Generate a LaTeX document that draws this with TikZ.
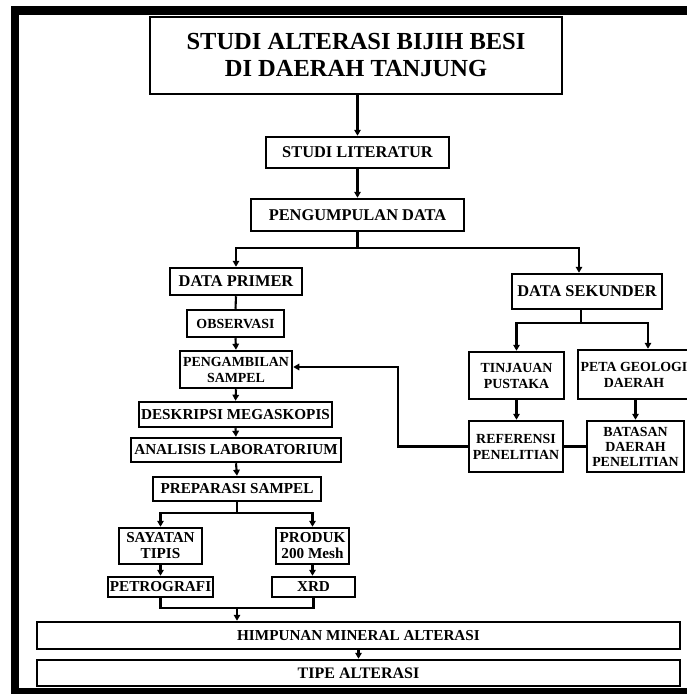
\documentclass[tikz,border=0pt]{standalone}
\usepackage{fontspec}
\setmainfont{Liberation Serif}
\usetikzlibrary{arrows.meta,calc}
\begin{document}
\begin{tikzpicture}[x=1pt,y=-1pt,
  box/.style={draw, line width=2.5pt, rectangle, inner sep=0pt, align=center},
  big/.style={box, font=\bfseries\fontsize{16.4}{18}\selectfont},
  mid/.style={box, font=\bfseries\fontsize{15.2}{16}\selectfont},
  sml/.style={box, font=\bfseries\fontsize{13.9}{16}\selectfont},
  conn/.style={line width=2.1pt},
  arr/.style={conn, -{Triangle[length=6pt,width=6.5pt]}},
]
\useasboundingbox (0,0) rectangle (687,694);
\fill[white] (0,0) rectangle (687,694);
% outer frame
\fill[black] (11,6) rectangle (687,15);
\fill[black] (11,6) rectangle (19,694);
\fill[black] (11,688) rectangle (687,694);

% nodes
\node[box, line width=2.6pt, minimum width=412pt, minimum height=77pt,
      font=\bfseries\fontsize{24.5}{27}\selectfont] (title) at (356,55.5)
      {STUDI ALTERASI BIJIH BESI\\DI DAERAH TANJUNG};
\node[big, minimum width=183pt, minimum height=31pt] (studi) at (357.5,152.5) {STUDI LITERATUR};
\node[big, minimum width=213pt, minimum height=32pt] (pd) at (357.5,215) {PENGUMPULAN DATA};
\node[big, minimum width=132pt, minimum height=27pt] (dp) at (236,281.5) {DATA PRIMER};
\node[big, minimum width=150pt, minimum height=35pt] (ds) at (587,291.5) {DATA SEKUNDER};
\node[sml, minimum width=97pt, minimum height=27pt] (obs) at (235.5,323.5) {OBSERVASI};
\node[sml, minimum width=112pt, minimum height=37pt] (peng) at (236,369.5) {PENGAMBILAN\\SAMPEL};
\node[mid, minimum width=193pt, minimum height=25pt] (desk) at (235.5,414.5) {DESKRIPSI MEGASKOPIS};
\node[mid, minimum width=210pt, minimum height=24pt] (anal) at (236,450) {ANALISIS LABORATORIUM};
\node[mid, minimum width=168pt, minimum height=24pt] (prep) at (237,489) {PREPARASI SAMPEL};
\node[mid, minimum width=83pt, minimum height=36pt] (say) at (160.5,546) {SAYATAN\\TIPIS};
\node[mid, minimum width=73pt, minimum height=36pt] (prod) at (312.5,546) {PRODUK\\200 Mesh};
\node[mid, minimum width=105pt, minimum height=20pt] (petro) at (160.5,587) {PETROGRAFI};
\node[mid, minimum width=83pt, minimum height=20pt] (xrd) at (313.5,587) {XRD};
\node[mid, minimum width=643pt, minimum height=27pt] (him) at (358.5,635.5) {HIMPUNAN MINERAL ALTERASI};
\node[box, font=\bfseries\fontsize{16}{18}\selectfont, minimum width=643pt, minimum height=26pt] (tipe) at (358.5,673) {TIPE ALTERASI};
\node[sml, minimum width=95pt, minimum height=47pt] (tin) at (516.5,375.5) {TINJAUAN\\PUSTAKA};
\node[sml, minimum width=112pt, minimum height=49pt] (peta) at (634,374.5) {PETA GEOLOGI\\DAERAH};
\node[sml, minimum width=94pt, minimum height=51pt] (ref) at (516,446.5) {REFERENSI\\PENELITIAN};
\node[sml, minimum width=97pt, minimum height=51pt, font=\bfseries\fontsize{13.9}{15}\selectfont] (bat) at (635.5,446.5) {BATASAN\\DAERAH\\PENELITIAN};

% connectors
\draw[arr] (title.south -| studi.north) -- (studi.north);
\draw[arr] (studi.south) -- (pd.north);
\coordinate (b1) at (357.5,248);
\draw[conn] (pd.south) -- (b1);
\draw[arr] (b1) -| (dp.north);
\coordinate (dsin) at ($(ds.north)+(-8,0)$);
\draw[arr] (b1) -| (dsin);
\draw[conn] (dp.south) -- (obs.north);
\draw[arr] (obs.south) -- (peng.north);
\draw[arr] (peng.south) -- (desk.north);
\draw[arr] (desk.south) -- (anal.north);
\draw[arr] (anal.south) -- (prep.north);
\coordinate (b2) at (237,513);
\draw[conn] (prep.south) -- (b2);
\draw[arr] (b2) -| (say.north);
\draw[arr] (b2) -| (prod.north);
\draw[arr] (say.south) -- (petro.north);
\draw[arr] (prod.south) -- (prod.south |- xrd.north);
\coordinate (b3) at (237,608);
\draw[conn] (petro.south) |- (b3) -| (xrd.south);
\draw[arr] (b3) -- (b3 |- him.north);
\draw[arr] (him.south) -- (tipe.north);
\coordinate (dsout) at ($(ds.south)+(-6,0)$);
\coordinate (b4) at (581,323);
\draw[conn] (dsout) -- (b4);
\draw[arr] (b4) -| (tin.north);
\coordinate (petain) at ($(peta.north)+(14,0)$);
\draw[arr] (b4) -| (petain);
\draw[arr] (tin.south) -- (tin.south |- ref.north);
\draw[arr] (bat.north |- peta.south) -- (bat.north);
\draw[conn] (ref.east) -- (bat.west);
\coordinate (c1) at (398,367);
\draw[arr] (ref.west) -| (c1) -- (c1 -| peng.east);
\end{tikzpicture}
\end{document}
